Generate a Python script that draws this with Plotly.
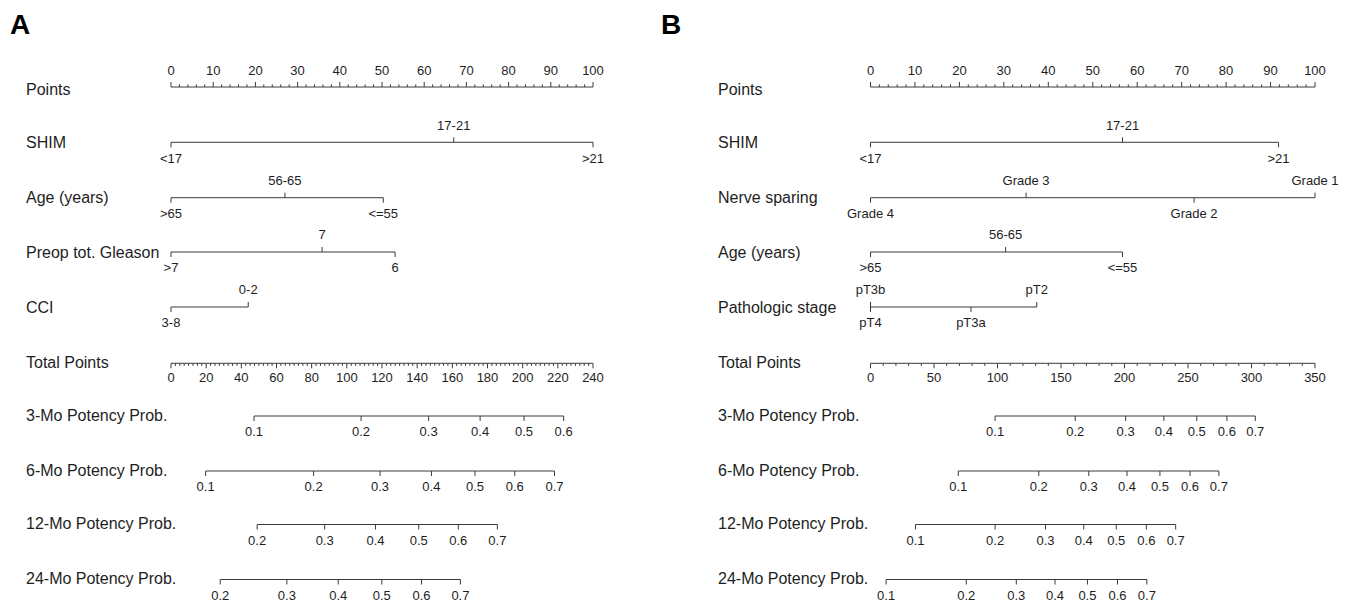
import plotly.graph_objects as go

# ------------------------------------------------------------------
# DATA
# ------------------------------------------------------------------
# Panel A
a_points_ticks = [0, 10, 20, 30, 40, 50, 60, 70, 80, 90, 100]

a_shim_labels = ["<17", "17-21", ">21"]
a_shim_pts = [0, 67.0, 100]
a_age_labels = [">65", "56-65", "<=55"]
a_age_pts = [0, 27.0, 50.3]
a_gleason_labels = [">7", "7", "6"]
a_gleason_pts = [0, 35.8, 53.1]
a_cci_labels = ["3-8", "0-2"]
a_cci_pts = [0, 18.3]

a_total_max = 240
a_total_ticks = [0, 20, 40, 60, 80, 100, 120, 140, 160, 180, 200, 220, 240]

a_prob3_labels = ["0.1", "0.2", "0.3", "0.4", "0.5", "0.6"]
a_prob3_tp = [47.2, 108.1, 146.5, 175.8, 200.8, 223.3]
a_prob6_labels = ["0.1", "0.2", "0.3", "0.4", "0.5", "0.6", "0.7"]
a_prob6_tp = [19.7, 81.1, 118.9, 148.1, 172.9, 195.5, 218.1]
a_prob12_labels = ["0.2", "0.3", "0.4", "0.5", "0.6", "0.7"]
a_prob12_tp = [49.0, 87.4, 116.3, 140.9, 163.4, 185.6]
a_prob24_labels = ["0.2", "0.3", "0.4", "0.5", "0.6", "0.7"]
a_prob24_tp = [28.0, 65.9, 95.1, 119.9, 142.5, 164.6]

# Panel B
b_points_ticks = [0, 10, 20, 30, 40, 50, 60, 70, 80, 90, 100]

b_shim_labels = ["<17", "17-21", ">21"]
b_shim_pts = [0, 56.7, 91.8]
b_nerve_labels = ["Grade 4", "Grade 3", "Grade 2", "Grade 1"]
b_nerve_pts = [0, 35.0, 72.8, 100]
b_age_labels = [">65", "56-65", "<=55"]
b_age_pts = [0, 30.4, 56.7]
b_stage_labels = ["pT4", "pT3b", "pT3a", "pT2"]
b_stage_pts = [0, 0, 22.6, 37.4]

b_total_max = 350
b_total_ticks = [0, 50, 100, 150, 200, 250, 300, 350]

b_prob_labels = ["0.1", "0.2", "0.3", "0.4", "0.5", "0.6", "0.7"]
b_prob3_tp = [98.1, 161.2, 200.9, 231.0, 256.9, 280.6, 303.0]
b_prob6_tp = [69.1, 132.5, 171.9, 202.0, 227.9, 251.6, 274.3]
b_prob12_tp = [35.4, 98.1, 137.8, 167.9, 193.5, 217.2, 240.3]
b_prob24_tp = [12.3, 75.4, 114.8, 145.3, 170.8, 194.5, 217.6]

# ------------------------------------------------------------------
# LAYOUT / STYLE
# ------------------------------------------------------------------
PAGE_W, PAGE_H = 1353, 605
OFF = 8                      # default body margin of the html page
W, H = PAGE_W - OFF, PAGE_H - OFF
FONT = "Liberation Sans, Arial, Helvetica, sans-serif"
LINE_COLOR = "#3a3a3a"
TEXT_COLOR = "#1e1e1e"
LABEL_SIZE = 16
TICK_SIZE = 13
TICK_LEN = 5
MINOR_LEN = 2.6

# label side for each tick of the variable axes ("a" above, "b" below)
side_a = {
    "SHIM": ["b", "a", "b"],
    "Age (years)": ["b", "a", "b"],
    "Preop tot. Gleason": ["b", "a", "b"],
    "CCI": ["b", "a"],
}
side_b = {
    "SHIM": ["b", "a", "b"],
    "Nerve sparing": ["b", "a", "b", "a"],
    "Age (years)": ["b", "a", "b"],
    "Pathologic stage": ["b", "a", "b", "a"],
}

# row baselines in page pixel rows (y axis is pixel-like)
ROW_POINTS = 87
ROW_VARS = [142.3, 197.7, 252, 307]
ROW_TOTAL = 363.3
ROW_PROBS = [416, 471, 524.5, 579.5]

# panel geometry in page pixels: points 0 / 100 positions, label column x
PANELS = {
    "A": dict(domain=[0, 0.5], p0=171.0, p100=593.0, label_x=24, letter_x=8),
    "B": dict(domain=[0.5, 1.0], p0=870.5, p100=1315.0, label_x=716, letter_x=659),
}

fig = go.Figure()


def add_segments(segs, xa, ya="y"):
    xs, ys = [], []
    for (x0, y0, x1, y1) in segs:
        xs += [x0, x1, None]
        ys += [y0, y1, None]
    fig.add_trace(go.Scatter(x=xs, y=ys, mode="lines", xaxis=xa, yaxis=ya,
                             line=dict(color=LINE_COLOR, width=1),
                             hoverinfo="skip", showlegend=False))


def add_texts(xs, ys, texts, xa, size=TICK_SIZE):
    fig.add_trace(go.Scatter(x=xs, y=ys, text=texts, mode="text", xaxis=xa,
                             yaxis="y", textposition="middle center",
                             textfont=dict(family=FONT, size=size, color=TEXT_COLOR),
                             hoverinfo="skip", showlegend=False))


def build_panel(key, xa, points_ticks, variables, sides, total_max, total_ticks,
                total_minor_step, probs):
    g = PANELS[key]
    segs = []
    txt_x, txt_y, txt = [], [], []

    # Points axis (ticks up, labels above)
    segs.append((points_ticks[0], ROW_POINTS, points_ticks[-1], ROW_POINTS))
    for v in points_ticks:
        segs.append((v, ROW_POINTS, v, ROW_POINTS - TICK_LEN))
        txt_x.append(v); txt_y.append(ROW_POINTS - 15); txt.append(str(v))
    step = (points_ticks[1] - points_ticks[0]) / 5
    k = 1
    while k * step < points_ticks[-1]:
        v = k * step
        if k % 5:
            segs.append((v, ROW_POINTS, v, ROW_POINTS - MINOR_LEN))
        k += 1

    # variable axes
    for row_y, (name, labels, pts) in zip(ROW_VARS, variables):
        segs.append((min(pts), row_y, max(pts), row_y))
        for lab, p, s in zip(labels, pts, sides[name]):
            if s == "a":
                segs.append((p, row_y, p, row_y - TICK_LEN))
                txt_x.append(p); txt_y.append(row_y - 16)
            else:
                segs.append((p, row_y, p, row_y + TICK_LEN))
                txt_x.append(p); txt_y.append(row_y + 17)
            txt.append(lab)

    # Total points axis (ticks down, labels below)
    scale = 100.0 / total_max
    segs.append((0, ROW_TOTAL, total_max * scale, ROW_TOTAL))
    for v in total_ticks:
        segs.append((v * scale, ROW_TOTAL, v * scale, ROW_TOTAL + TICK_LEN))
        txt_x.append(v * scale); txt_y.append(ROW_TOTAL + 15); txt.append(str(v))
    k = 1
    major = total_ticks[1] - total_ticks[0]
    while k * total_minor_step < total_max:
        v = k * total_minor_step
        if abs(v / major - round(v / major)) > 1e-9:
            segs.append((v * scale, ROW_TOTAL, v * scale, ROW_TOTAL + MINOR_LEN))
        k += 1

    # probability axes
    for row_y, (name, labels, tps) in zip(ROW_PROBS, probs):
        xs = [t * scale for t in tps]
        segs.append((xs[0], row_y, xs[-1], row_y))
        for lab, x in zip(labels, xs):
            segs.append((x, row_y, x, row_y + TICK_LEN))
            txt_x.append(x); txt_y.append(row_y + 17); txt.append(lab)

    add_segments(segs, xa)
    add_texts(txt_x, txt_y, txt, xa)

    # row labels (left column) as annotations
    names = (["Points"] + [v[0] for v in variables] + ["Total Points"]
             + [p[0] for p in probs])
    rows = [ROW_POINTS + 2] + ROW_VARS + [ROW_TOTAL - 1] + [r - 1 for r in ROW_PROBS]
    for n, r in zip(names, rows):
        fig.add_annotation(x=(g["label_x"] - OFF) / W, xref="paper", y=r, yref="y",
                           text=n, showarrow=False, xanchor="left", yanchor="middle",
                           font=dict(family=FONT, size=LABEL_SIZE, color=TEXT_COLOR))
    fig.add_annotation(x=(g["letter_x"] - OFF) / W, xref="paper", y=24, yref="y",
                       text="<b>%s</b>" % key, showarrow=False, xanchor="left",
                       yanchor="middle",
                       font=dict(family=FONT, size=28, color="#000000"))


build_panel(
    "A", "x", a_points_ticks,
    [("SHIM", a_shim_labels, a_shim_pts),
     ("Age (years)", a_age_labels, a_age_pts),
     ("Preop tot. Gleason", a_gleason_labels, a_gleason_pts),
     ("CCI", a_cci_labels, a_cci_pts)],
    side_a, a_total_max, a_total_ticks, 2.5,
    [("3-Mo Potency Prob.", a_prob3_labels, a_prob3_tp),
     ("6-Mo Potency Prob.", a_prob6_labels, a_prob6_tp),
     ("12-Mo Potency Prob.", a_prob12_labels, a_prob12_tp),
     ("24-Mo Potency Prob.", a_prob24_labels, a_prob24_tp)],
)

build_panel(
    "B", "x2", b_points_ticks,
    [("SHIM", b_shim_labels, b_shim_pts),
     ("Nerve sparing", b_nerve_labels, b_nerve_pts),
     ("Age (years)", b_age_labels, b_age_pts),
     ("Pathologic stage", b_stage_labels, b_stage_pts)],
    side_b, b_total_max, b_total_ticks, 10,
    [("3-Mo Potency Prob.", b_prob_labels, b_prob3_tp),
     ("6-Mo Potency Prob.", b_prob_labels, b_prob6_tp),
     ("12-Mo Potency Prob.", b_prob_labels, b_prob12_tp),
     ("24-Mo Potency Prob.", b_prob_labels, b_prob24_tp)],
)


def axis_range(g):
    k = (g["p100"] - g["p0"]) / 100.0
    width = (g["domain"][1] - g["domain"][0]) * W
    left_px = g["domain"][0] * W + OFF
    r0 = -(g["p0"] - left_px) / k
    return [r0, r0 + width / k]


hidden = dict(visible=False, showgrid=False, zeroline=False, fixedrange=True)
fig.update_layout(
    width=W, height=H,
    margin=dict(l=0, r=0, t=0, b=0),
    paper_bgcolor="white", plot_bgcolor="white",
    showlegend=False,
    xaxis=dict(domain=PANELS["A"]["domain"], range=axis_range(PANELS["A"]), **hidden),
    xaxis2=dict(domain=PANELS["B"]["domain"], range=axis_range(PANELS["B"]), **hidden),
    yaxis=dict(domain=[0, 1], range=[PAGE_H, OFF], **hidden),
)

fig.write_html("out.html")
